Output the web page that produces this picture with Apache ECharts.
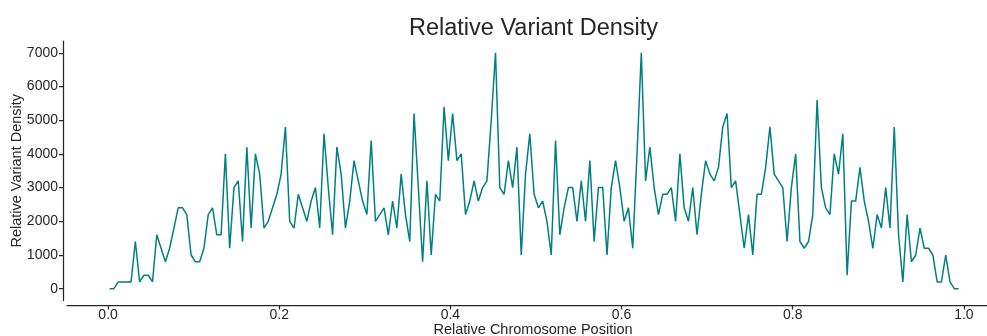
<!DOCTYPE html>
<html>
<head>
<meta charset="utf-8">
<title>Relative Variant Density</title>
<script src="https://cdn.jsdelivr.net/npm/echarts@6/dist/echarts.min.js"></script>
<style>
  html, body { margin: 0; padding: 0; background: #ffffff; }
  #chart { width: 987px; height: 336px; }
</style>
</head>
<body>
<div id="chart"></div>
<script>
// Bins along the chromosome: relative start of the first bin and bin width
const binStart = 0.0018;
const binStep = 0.00501;

// Variant count per bin
const density = [
  0, 0, 200, 200, 200, 200, 1400, 200, 400, 400,
  200, 1600, 1200, 800, 1200, 1800, 2400, 2400, 2200, 1000,
  800, 800, 1200, 2200, 2400, 1600, 1600, 4000, 1200, 3000,
  3200, 1400, 4200, 1800, 4000, 3400, 1800, 2000, 2400, 2800,
  3400, 4800, 2000, 1800, 2800, 2400, 2000, 2600, 3000, 1800,
  4600, 3000, 1600, 4200, 3400, 1800, 2600, 3800, 3200, 2600,
  2200, 4400, 2000, 2200, 2400, 1600, 2600, 1800, 3400, 2200,
  1400, 5200, 3000, 800, 3200, 1000, 2800, 2600, 5400, 3800,
  5200, 3800, 4000, 2200, 2600, 3200, 2600, 3000, 3200, 5000,
  7000, 3000, 2800, 3800, 3000, 4200, 1000, 3400, 4600, 2800,
  2400, 2600, 2000, 1000, 4400, 1600, 2400, 3000, 3000, 2000,
  3200, 2000, 3800, 1400, 3000, 3000, 1000, 3000, 3800, 3000,
  2000, 2400, 1200, 4000, 7000, 3200, 4200, 3000, 2200, 2800,
  2800, 3000, 2000, 4000, 2400, 2000, 3000, 1600, 2800, 3800,
  3400, 3200, 3600, 4800, 5200, 3000, 3200, 2200, 1200, 2200,
  1000, 2800, 2800, 3600, 4800, 3400, 3200, 3000, 1400, 3000,
  4000, 1400, 1200, 1400, 2200, 5600, 3000, 2400, 2200, 4000,
  3400, 4600, 400, 2600, 2600, 3600, 2600, 2000, 1200, 2200,
  1800, 3000, 1800, 4800, 1600, 200, 2200, 800, 1000, 1800,
  1200, 1200, 1000, 200, 200, 1000, 200, 0, 0
];

// Tick positions
const xTicks = [0.0, 0.2, 0.4, 0.6, 0.8, 1.0];
const yTicks = [0, 1000, 2000, 3000, 4000, 5000, 6000, 7000];

const points = density.map((v, i) => [binStart + binStep * i, v]);

const ink = '#262626';
const font = "'Liberation Sans', Arial, sans-serif";

const chart = echarts.init(document.getElementById('chart'), null, { renderer: 'canvas' });

chart.setOption({
  animation: false,
  backgroundColor: '#ffffff',
  title: {
    text: 'Relative Variant Density',
    left: 528.5,
    top: 12,
    textAlign: 'center',
    textStyle: { fontFamily: font, fontSize: 23.5, fontWeight: 'normal', color: ink }
  },
  grid: {
    left: 67, top: 41, width: 932, height: 259.5,
    containLabel: false,
    outerBoundsMode: 'none'
  },
  xAxis: {
    type: 'value',
    min: -0.048,
    max: 1.041,
    offset: 5,
    name: 'Relative Chromosome Position',
    nameLocation: 'middle',
    nameGap: 16.5,
    nameMoveOverlap: false,
    nameTextStyle: { fontFamily: font, fontSize: 14.5, color: ink },
    axisLine: { show: true, onZero: false, lineStyle: { color: ink, width: 1.25 } },
    axisTick: { show: true, customValues: xTicks, length: 4, lineStyle: { color: ink, width: 1.25 } },
    axisLabel: {
      customValues: xTicks,
      formatter: v => v.toFixed(1),
      fontFamily: font, fontSize: 14, color: ink, margin: 3
    },
    splitLine: { show: false }
  },
  yAxis: {
    type: 'value',
    min: -350,
    max: 7350,
    offset: 4,
    name: 'Relative Variant Density',
    nameLocation: 'middle',
    nameGap: 38.5,
    nameMoveOverlap: false,
    nameTextStyle: { fontFamily: font, fontSize: 14.5, color: ink },
    axisLine: { show: true, onZero: false, lineStyle: { color: ink, width: 1.25 } },
    axisTick: { show: true, customValues: yTicks, length: 4, lineStyle: { color: ink, width: 1.25 } },
    axisLabel: {
      customValues: yTicks,
      formatter: v => String(v),
      fontFamily: font, fontSize: 14, color: ink, margin: 5
    },
    splitLine: { show: false }
  },
  series: [{
    type: 'line',
    data: points,
    showSymbol: false,
    symbol: 'none',
    lineStyle: { color: '#008080', width: 1.5 },
    itemStyle: { color: '#008080' }
  }]
});
</script>
</body>
</html>
